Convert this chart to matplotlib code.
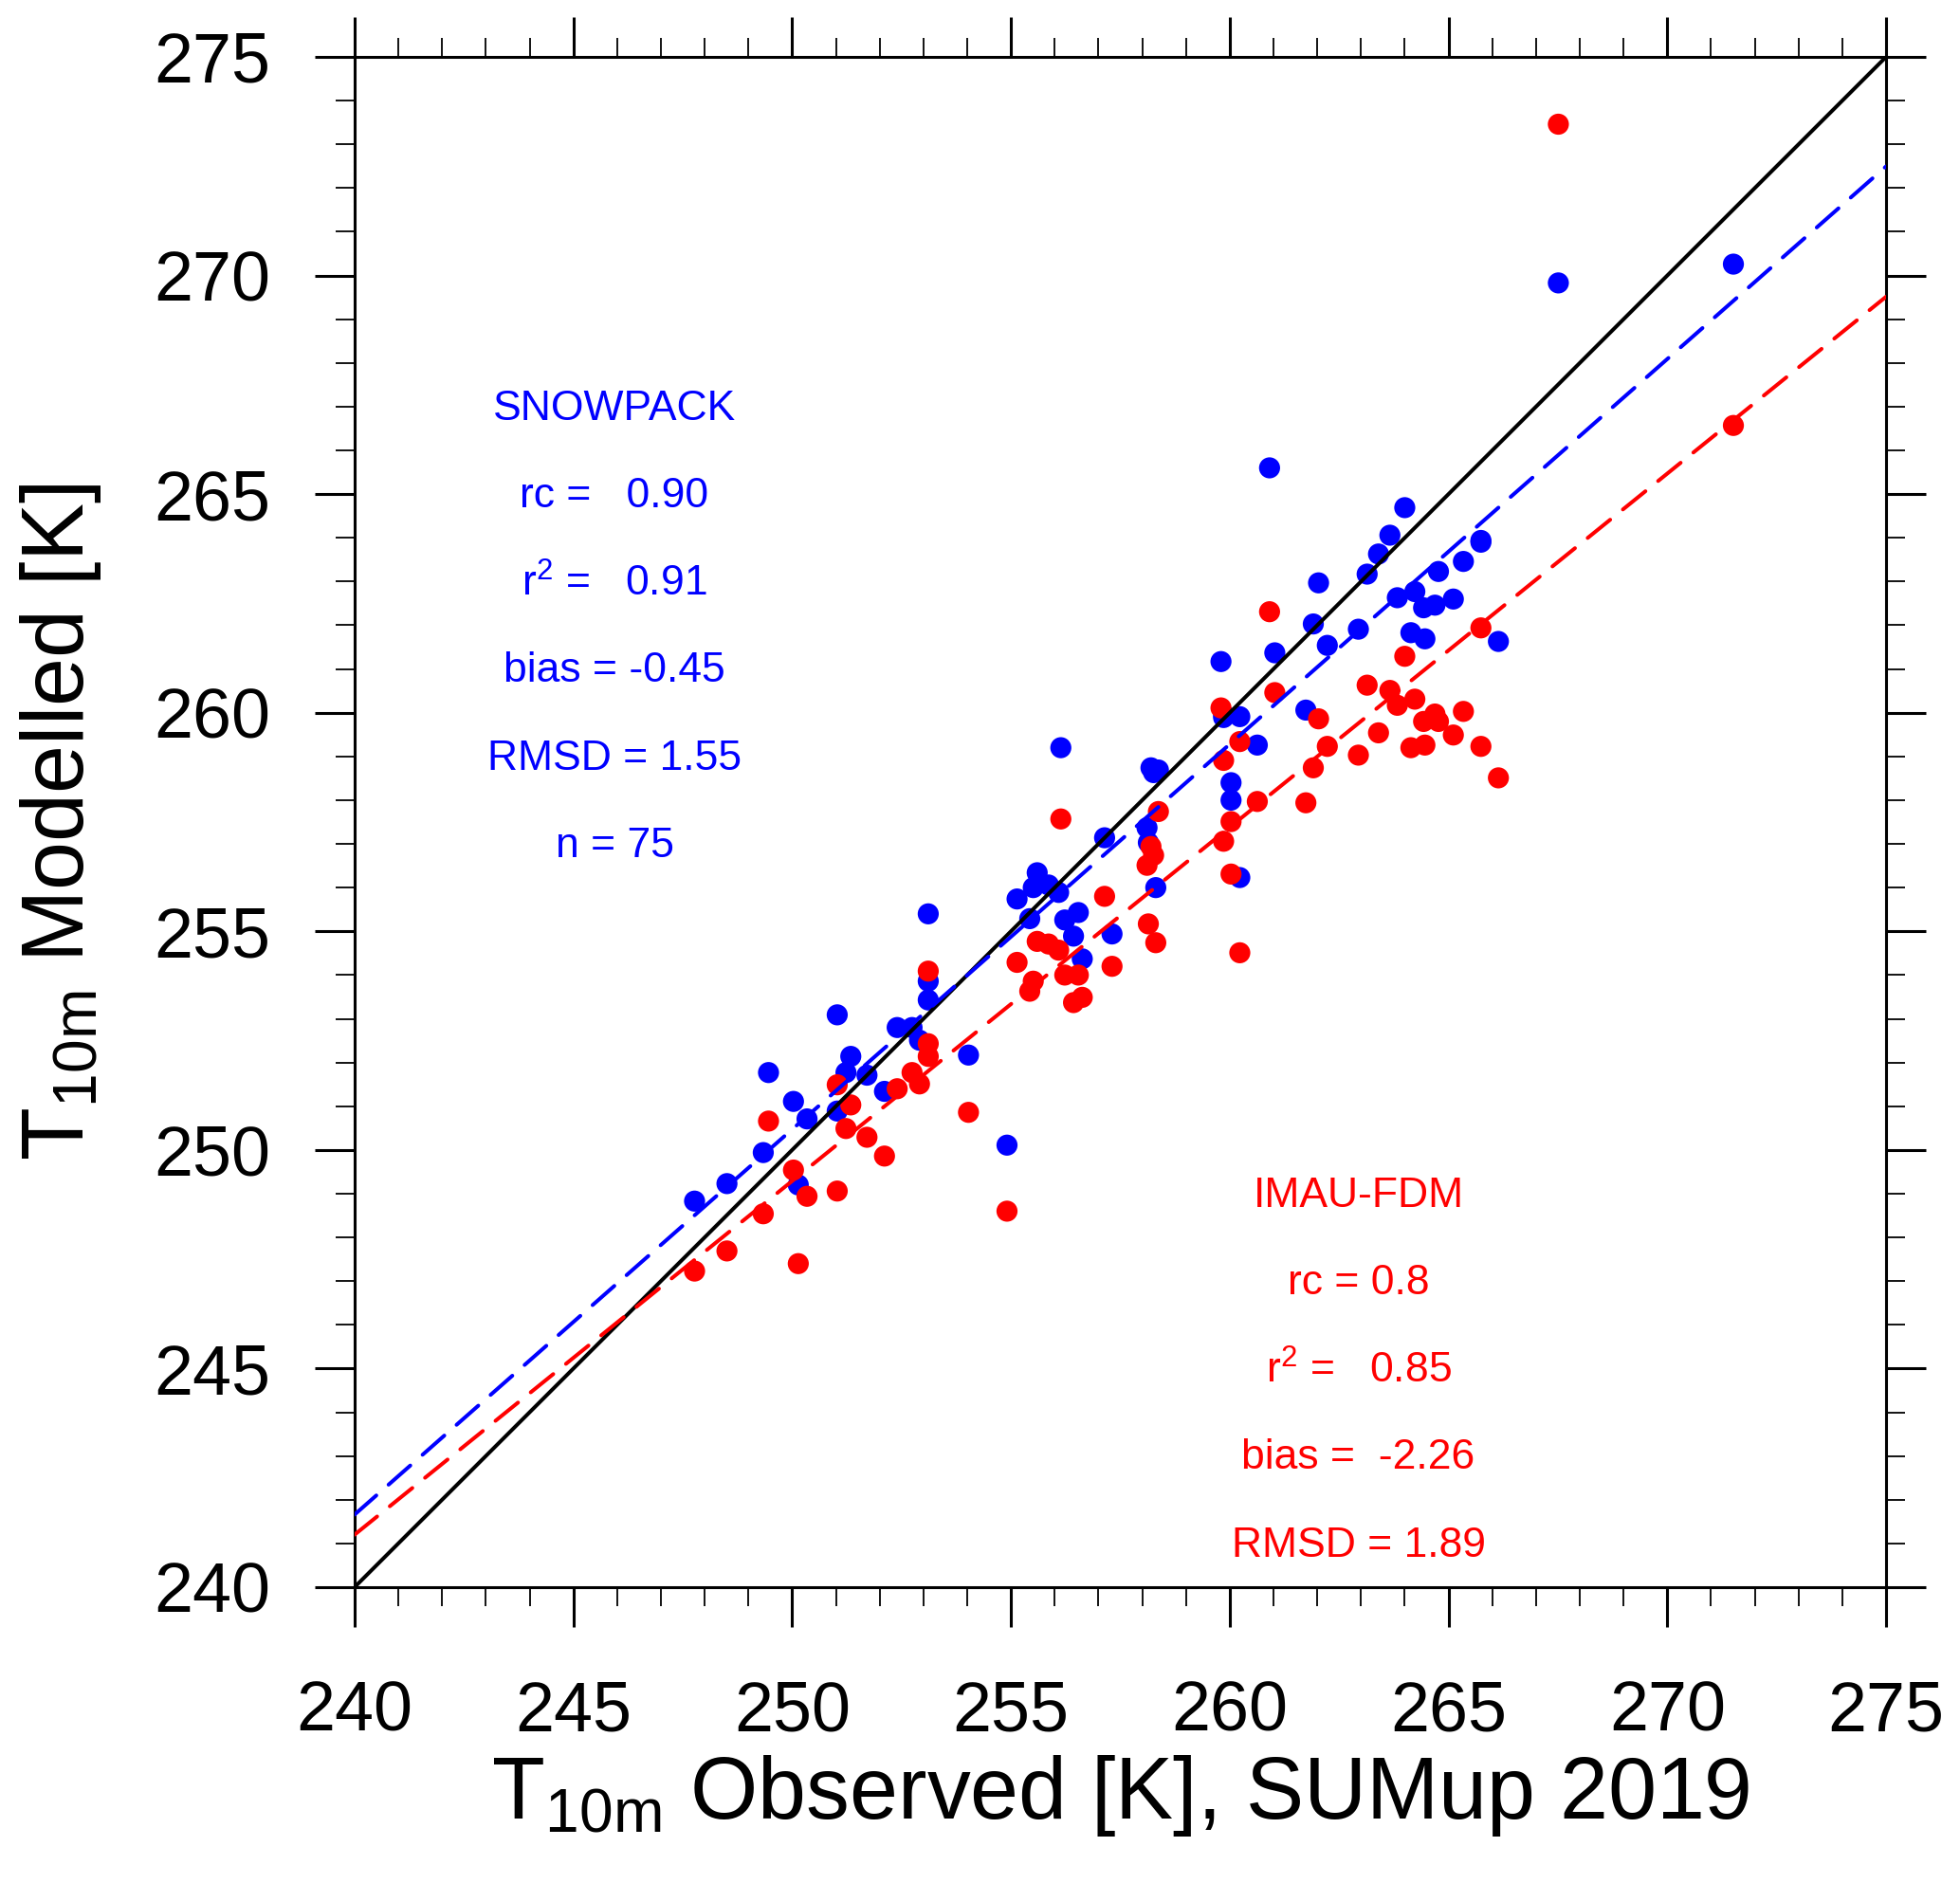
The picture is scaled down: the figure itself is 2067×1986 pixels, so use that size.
import matplotlib
matplotlib.use("Agg")
import matplotlib.pyplot as plt
import numpy as np
from matplotlib.ticker import MultipleLocator

plt.rcParams['font.family'] = ['Liberation Sans', 'DejaVu Sans']
plt.rcParams['mathtext.fontset'] = 'custom'
plt.rcParams['mathtext.rm'] = 'Liberation Sans'
plt.rcParams['mathtext.it'] = 'Liberation Sans:italic'
plt.rcParams['lines.scale_dashes'] = False

# observed T10m (SUMup 2019) and the two model estimates
t10m_obs = [247.77, 248.51, 249.34, 249.46, 250.03, 250.14, 250.34, 251.03, 251.03, 251.23,
            251.34, 251.71, 252.11, 252.40, 252.74, 252.91, 253.11, 253.11, 253.11, 254.03,
            254.91, 255.14, 255.43, 255.51, 255.60, 255.86, 256.09, 256.14, 256.23, 256.43,
            256.54, 256.63, 257.14, 257.31, 258.11, 258.14, 258.20, 258.26, 258.37, 258.31,
            259.80, 259.86, 259.86, 260.03, 260.03, 260.23, 260.23, 260.63, 260.91, 261.03,
            261.74, 261.91, 262.03, 262.23, 262.94, 263.14, 263.40, 263.66, 263.83, 264.00,
            264.14, 264.23, 264.43, 264.46, 264.69, 264.77, 265.11, 265.34, 265.74, 265.74,
            266.14, 267.51, 271.51]
t10m_snowpack = [248.83, 249.23, 249.94, 251.77, 251.11, 249.20, 250.71, 253.09, 250.89, 251.77,
                 252.14, 251.71, 251.34, 252.80, 252.80, 252.51, 253.43, 253.86, 255.40, 252.17,
                 250.11, 255.74, 255.29, 256.00, 256.34, 256.06, 255.89, 259.20, 255.26, 254.89,
                 255.43, 254.37, 257.14, 254.94, 257.37, 257.03, 258.74, 258.63, 258.69, 256.00,
                 261.17, 259.89, 259.95, 258.40, 258.00, 259.91, 256.23, 259.26, 265.60, 261.37,
                 260.06, 262.03, 262.97, 261.54, 261.91, 263.17, 263.63, 264.06, 262.63, 264.69,
                 261.83, 262.77, 262.40, 261.69, 262.46, 263.23, 262.60, 263.46, 263.94, 263.90,
                 261.63, 269.83, 270.26]
t10m_imau = [247.23, 247.69, 248.54, 250.66, 249.54, 247.40, 248.94, 251.49, 249.06, 250.49,
             251.03, 250.29, 249.86, 251.40, 251.77, 251.51, 252.43, 252.14, 254.09, 250.86,
             248.60, 254.29, 253.63, 253.86, 254.77, 254.71, 254.57, 257.57, 254.00, 253.37,
             254.00, 253.49, 255.80, 254.20, 256.51, 255.17, 256.94, 256.74, 257.74, 254.74,
             260.11, 258.91, 257.06, 257.51, 256.31, 259.34, 254.51, 257.97, 262.31, 260.46,
             257.94, 258.74, 259.86, 259.23, 259.03, 260.63, 259.54, 260.51, 260.17, 261.29,
             259.20, 260.31, 259.80, 259.26, 259.97, 259.80, 259.49, 260.03, 261.94, 259.23,
             258.51, 273.46, 266.57]

# regression lines (value at 240 K, slope)
fit_snowpack = (241.66, 0.881)
fit_imau = (241.20, 0.809)

snowpack_stats = ["SNOWPACK", "rc =   0.90", r"r$^{\mathrm{2}}$ =   0.91",
                  "bias = -0.45", "RMSD = 1.55", "n = 75"]
imau_stats = ["IMAU-FDM", "rc = 0.8", r"r$^{\mathrm{2}}$ =   0.85",
              "bias =  -2.26", "RMSD = 1.89"]

lims = (240, 275)
blue = "#0000ff"
red = "#ff0000"

fig = plt.figure(figsize=(10.335, 9.93), dpi=200)
ax = fig.add_axes([0.1809, 0.1571, 0.7814, 0.8127])

ax.scatter(t10m_obs, t10m_snowpack, s=64, color=blue, edgecolors='none', zorder=2)
ax.scatter(t10m_obs, t10m_imau, s=64, color=red, edgecolors='none', zorder=3)

xx = np.array(lims, dtype=float)
ax.plot(xx, xx, color='black', lw=1.45, zorder=4)
for (b0, m), col in [(fit_snowpack, blue), (fit_imau, red)]:
    ax.plot(xx, b0 + m * (xx - lims[0]), color=col, lw=1.45,
            dashes=(11.0, 6.2), dash_capstyle='round', zorder=4)

for i, s in enumerate(snowpack_stats):
    ax.text(245.94, 266.95 - 2 * i, s, color=blue, fontsize=16, ha='center', va='center')
for i, s in enumerate(imau_stats):
    ax.text(262.94, 248.95 - 2 * i, s, color=red, fontsize=16, ha='center', va='center')

ax.set_xlim(lims)
ax.set_ylim(lims)
ax.xaxis.set_major_locator(MultipleLocator(5))
ax.yaxis.set_major_locator(MultipleLocator(5))
ax.xaxis.set_minor_locator(MultipleLocator(1))
ax.yaxis.set_minor_locator(MultipleLocator(1))
ax.tick_params(which='both', direction='out', top=True, right=True)
ax.tick_params(which='major', length=15, width=1.1, labelsize=26.5)
ax.tick_params(axis='x', which='major', pad=20)
ax.tick_params(axis='y', which='major', pad=17)
ax.tick_params(which='minor', length=7.2, width=0.65)
for sp in ax.spines.values():
    sp.set_linewidth(1.1)

ax.set_xlabel(r"T$_{\mathrm{10m}}$ Observed [K], SUMup 2019", fontsize=33, labelpad=3)
ax.set_ylabel(r"T$_{\mathrm{10m}}$ Modelled [K]", fontsize=33, labelpad=19)

fig.savefig("out.png", dpi=200)
